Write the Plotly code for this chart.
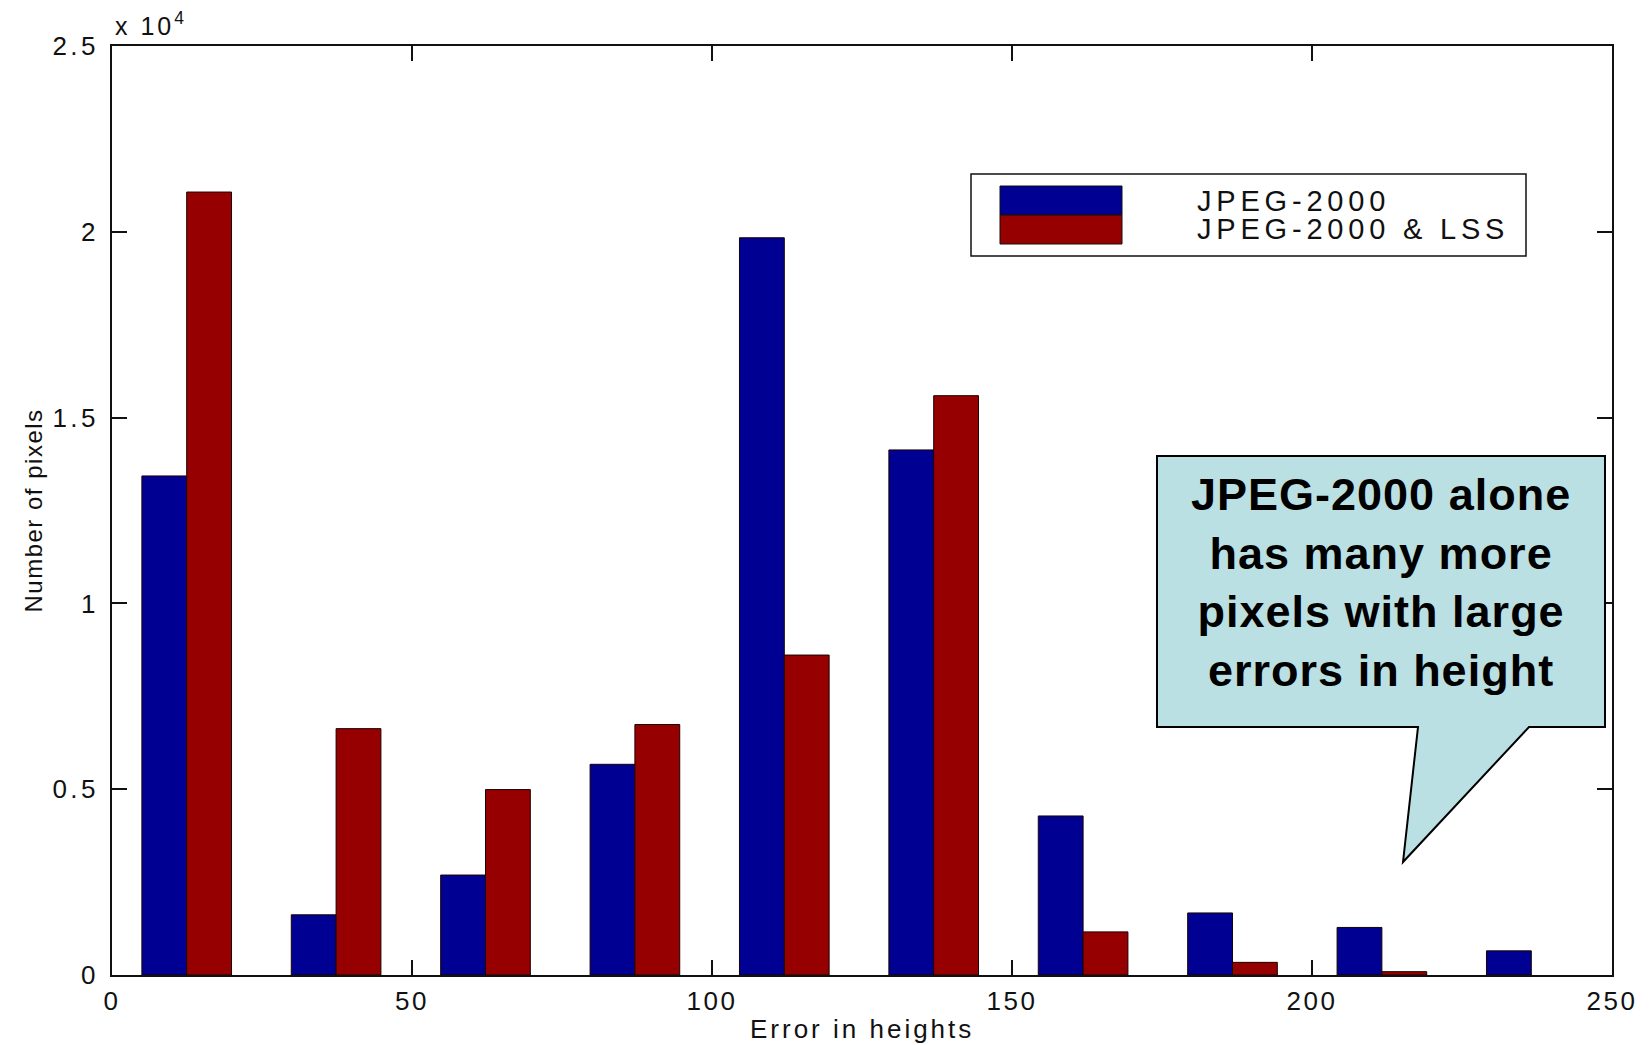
import plotly.graph_objects as go

# Histogram of height errors: bin centres and pixel counts per method
bin_centers = [12.45, 37.35, 62.25, 87.15, 112.05, 136.95, 161.85, 186.75, 211.65, 236.55]
jpeg2000 = [13430, 1620, 2690, 5670, 19840, 14130, 4280, 1670, 1280, 650]
jpeg2000_lss = [21070, 6630, 4990, 6740, 8610, 15590, 1160, 340, 90, 0]
series_names = ["JPEG-2000", "JPEG-2000 & LSS"]
series_colors = ["#000092", "#970000"]

x_ticks = [0, 50, 100, 150, 200, 250]
y_ticks = [0, 5000, 10000, 15000, 20000, 25000]
y_tick_labels = ["0", "0.5", "1", "1.5", "2", "2.5"]

W, H = 1651, 1045
ML, MR, MT, MB = 112, 39, 46, 70
PW, PH = W - ML - MR, H - MT - MB
FONT = "Liberation Sans, Arial, sans-serif"


def px_x(px):
    return (px - ML) / PW


def px_y(py):
    return (H - MB - py) / PH


def spaced(text, sp):
    return f'<span style="letter-spacing:{sp}px">{text}</span>'


TICK_FONT = dict(family=FONT, size=26, color="#111")

fig = go.Figure()
for name, vals, col in zip(series_names, [jpeg2000, jpeg2000_lss], series_colors):
    fig.add_trace(go.Bar(
        x=bin_centers, y=vals, name=name,
        # empty bins get no outline so nothing is drawn for them
        marker=dict(color=col, line=dict(color="#1a0000",
                                         width=[1 if v > 0 else 0 for v in vals])),
        showlegend=False,
    ))

axis_common = dict(
    showline=True, linecolor="#111", linewidth=1.5, mirror="ticks",
    ticks="inside", ticklen=15, tickwidth=1.5, tickcolor="#111",
    showgrid=False, zeroline=False, tickfont=TICK_FONT,
)

fig.update_layout(
    width=W, height=H,
    margin=dict(l=ML, r=MR, t=MT, b=MB, autoexpand=False),
    paper_bgcolor="white", plot_bgcolor="white",
    barmode="group", bargap=0.4, bargroupgap=0,
    xaxis=dict(range=[0, 250], tickvals=x_ticks,
               ticktext=[spaced(str(v), 2.5) for v in x_ticks],
               ticklabelstandoff=2, **axis_common),
    yaxis=dict(range=[0, 25000], tickvals=y_ticks,
               ticktext=[spaced(t, 3.5) for t in y_tick_labels],
               ticklabelstandoff=6, **axis_common),
)

annotations = []
# axis titles and exponent marker
annotations.append(dict(
    text=spaced("Error in heights", 3), x=0.5, y=px_y(1029),
    xref="paper", yref="paper", xanchor="center", yanchor="middle", showarrow=False,
    font=dict(family=FONT, size=26, color="#111"),
))
annotations.append(dict(
    text=spaced("Number of pixels", 1.5), x=px_x(33), y=0.5, textangle=-90,
    xref="paper", yref="paper", xanchor="center", yanchor="middle", showarrow=False,
    font=dict(family=FONT, size=24, color="#111"),
))
annotations.append(dict(
    text=spaced("x 10<sup>4</sup>", 3), x=px_x(113), y=px_y(24),
    xref="paper", yref="paper", xanchor="left", yanchor="middle", showarrow=False,
    font=dict(family=FONT, size=25, color="#111"),
))

shapes = []
# legend box with stacked swatches
shapes.append(dict(type="rect", xref="paper", yref="paper",
                   x0=px_x(971), x1=px_x(1526), y0=px_y(256), y1=px_y(174),
                   fillcolor="white", line=dict(color="#111", width=1.5), layer="above"))
swatch_rows = [(186, 215), (215, 244)]
legend_text_y = [201, 229]
for (top, bot), col, name, ty in zip(swatch_rows, series_colors, series_names, legend_text_y):
    shapes.append(dict(type="rect", xref="paper", yref="paper",
                       x0=px_x(1000), x1=px_x(1122), y0=px_y(bot), y1=px_y(top),
                       fillcolor=col, line=dict(color="#111", width=1), layer="above"))
    annotations.append(dict(
        text=spaced(name.replace("&", "&amp;"), 4.8), x=px_x(1195), y=px_y(ty),
        xref="paper", yref="paper", xanchor="left", yanchor="middle", showarrow=False,
        font=dict(family=FONT, size=29, color="#111"),
    ))

# speech-bubble callout
bubble = [(1157, 456), (1605, 456), (1605, 727), (1529, 727), (1403, 862), (1418, 727), (1157, 727)]
path = "M " + " L ".join(f"{px_x(a):.5f},{px_y(b):.5f}" for a, b in bubble) + " Z"
shapes.append(dict(type="path", xref="paper", yref="paper", path=path,
                   fillcolor="#bbe0e3", line=dict(color="#000", width=2), layer="above"))
annotations.append(dict(
    text=spaced("JPEG-2000 alone<br>has many more<br>pixels with large<br>errors in height", 1),
    x=px_x(1381), y=px_y(582), xref="paper", yref="paper",
    xanchor="center", yanchor="middle", align="center", showarrow=False,
    font=dict(family=FONT, size=45, color="#000", weight="bold"),
))

fig.update_layout(shapes=shapes, annotations=annotations)
fig.write_html("out.html")
